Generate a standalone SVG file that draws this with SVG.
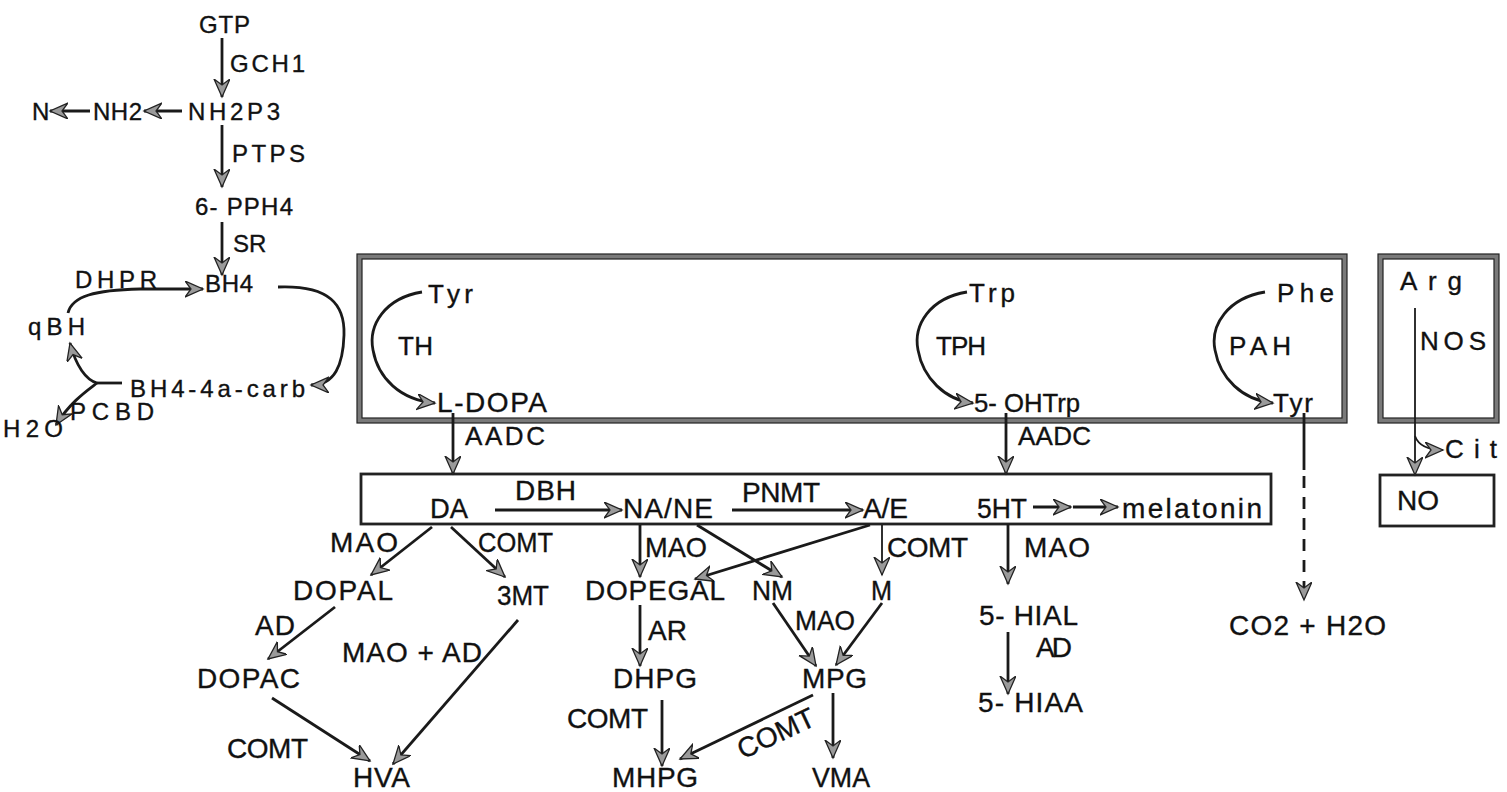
<svg xmlns="http://www.w3.org/2000/svg" width="1507" height="792" viewBox="0 0 1507 792">
<defs>
<marker id="ah" markerUnits="userSpaceOnUse" markerWidth="22" markerHeight="18" refX="18" refY="8" orient="auto">
<path d="M0,0 L18,8 L0,16 L6,8 Z" fill="#9a9a9a" stroke="#222" stroke-width="1.3" stroke-linejoin="miter"/>
</marker>
</defs>
<style>
text{font-family:"Liberation Sans",Arial,sans-serif;fill:#111;stroke:#111;stroke-width:0.35;font-size:28px}
.s{font-size:24px}
.m{font-size:26px}
.c{fill:none;stroke:#1a1a1a;stroke-width:2.8}
.a{fill:none;stroke:#1a1a1a;stroke-width:2.8;marker-end:url(#ah)}
.t{fill:none;stroke:#1a1a1a;stroke-width:1.8;marker-end:url(#ah)}
.d{fill:none;stroke:#1a1a1a;stroke-width:2.8;stroke-dasharray:12 9;marker-end:url(#ah)}
.bx{fill:none;stroke:#7a7a7a;stroke-width:5}
.bl{fill:none;stroke:#222;stroke-width:1.2}
.b2{fill:none;stroke:#222;stroke-width:2.8}
</style>

<g id="frames">
<rect class="bx" x="359.5" y="256.5" width="985" height="164"/>
<rect class="bl" x="357" y="254" width="990" height="169"/>
<rect class="bl" x="362" y="259" width="980" height="159"/>
<rect class="bx" x="1380.5" y="256.5" width="116" height="164"/>
<rect class="bl" x="1378" y="254" width="121" height="169"/>
<rect class="bl" x="1383" y="259" width="111" height="159"/>
<rect class="b2" x="361" y="474" width="910" height="50"/>
<rect class="b2" x="1380" y="475" width="114" height="51"/>
</g>

<g id="connectors">
<line class="a" x1="222" y1="38" x2="222" y2="97"/>
<line class="a" x1="182" y1="111" x2="144" y2="111"/>
<line class="a" x1="90" y1="111" x2="50" y2="111"/>
<line class="a" x1="222" y1="125" x2="222" y2="187"/>
<line class="a" x1="222" y1="222" x2="222" y2="275"/>
<path class="a" d="M68,313 C72,296 95,290 140,289 L203,289"/>
<path class="a" d="M278,287 C330,285 345,305 344,335 C343,365 335,385 311,385"/>
<path class="c" d="M122,383 L97,383"/>
<path class="a" d="M97,383 C86,380 76,366 70,343"/>
<path class="a" d="M97,383 C88,390 70,402 56,425"/>
<path class="a" d="M422,292 C385,298 368,325 373,350 C378,378 400,400 435,403"/>
<path class="a" d="M967,292 C930,298 913,325 918,350 C923,378 945,400 973,403"/>
<path class="a" d="M1265,292 C1228,298 1210,325 1215,350 C1220,378 1242,400 1273,403"/>
<line class="a" x1="453" y1="413" x2="453" y2="474"/>
<line class="a" x1="1006" y1="413" x2="1006" y2="474"/>
<line class="c" x1="1304" y1="413" x2="1304" y2="470"/>
<line class="d" x1="1304" y1="476" x2="1304" y2="600"/>
<line class="t" x1="1415" y1="308" x2="1415" y2="475"/>
<path class="t" d="M1415,436 Q1420,450 1443,450"/>
<line class="a" x1="495" y1="510" x2="622" y2="510"/>
<line class="a" x1="732" y1="510" x2="863" y2="510"/>
<line class="a" x1="1033" y1="507" x2="1071" y2="507"/>
<line class="a" x1="1073" y1="507" x2="1118" y2="507"/>
<line class="a" x1="432" y1="527" x2="371" y2="575"/>
<line class="a" x1="451" y1="527" x2="505" y2="577"/>
<line class="a" x1="335" y1="607" x2="268" y2="659"/>
<line class="a" x1="518" y1="620" x2="393" y2="764"/>
<line class="a" x1="272" y1="698" x2="370" y2="761"/>
<line class="a" x1="640" y1="525" x2="640" y2="577"/>
<line class="a" x1="697" y1="525" x2="782" y2="577"/>
<line class="a" x1="870" y1="525" x2="695" y2="579"/>
<line class="t" x1="882" y1="525" x2="882" y2="575"/>
<line class="a" x1="640" y1="605" x2="640" y2="666"/>
<line class="a" x1="773" y1="603" x2="816" y2="666"/>
<line class="a" x1="882" y1="603" x2="836" y2="665"/>
<line class="a" x1="662" y1="700" x2="662" y2="766"/>
<line class="a" x1="813" y1="695" x2="680" y2="759"/>
<line class="a" x1="833" y1="693" x2="833" y2="758"/>
<line class="a" x1="1008" y1="524" x2="1008" y2="584"/>
<line class="a" x1="1008" y1="632" x2="1008" y2="694"/>
</g>

<g id="cofactor">
<text class="s" x="199" y="33" textLength="51">GTP</text>
<text class="s" x="230" y="72" textLength="75">GCH1</text>
<text class="s" x="188" y="120" textLength="92">NH2P3</text>
<text class="s" x="93" y="120" textLength="49">NH2</text>
<text class="s" x="32" y="120">N</text>
<text class="s" x="232" y="162" textLength="73">PTPS</text>
<text class="s" x="195" y="215" textLength="98">6- PPH4</text>
<text class="s" x="233" y="252">SR</text>
<text class="s" x="205" y="292" textLength="48">BH4</text>
<text class="s" x="75" y="288" textLength="82">DHPR</text>
<text class="s" x="28" y="335" textLength="57">qBH</text>
<text class="s" x="130" y="397" textLength="175">BH4-4a-carb</text>
<text class="s" x="3" y="437" textLength="60">H2O</text>
<text class="s" x="70" y="420" textLength="84">PCBD</text>
</g>

<g id="hydroxylation">
<text class="m" x="428" y="303" textLength="45">Tyr</text>
<text class="m" x="398" y="355" textLength="35">TH</text>
<text x="437" y="412" textLength="110">L-DOPA</text>
<text class="m" x="969" y="302" textLength="46">Trp</text>
<text class="m" x="936" y="355" textLength="50">TPH</text>
<text class="m" x="974" y="412" textLength="106" lengthAdjust="spacingAndGlyphs">5- OHTrp</text>
<text class="m" x="1277" y="302" textLength="57">Phe</text>
<text class="m" x="1229" y="355" textLength="62">PAH</text>
<text class="m" x="1273" y="412" textLength="40">Tyr</text>
<text class="m" x="1400" y="290" textLength="62">Arg</text>
<text class="m" x="1420" y="350" textLength="66">NOS</text>
<text class="m" x="1445" y="458" textLength="52">Cit</text>
<text x="1397" y="510" textLength="42">NO</text>
<text class="m" x="465" y="445" textLength="80">AADC</text>
<text class="m" x="1018" y="445" textLength="73">AADC</text>
</g>

<g id="amines">
<text x="430" y="518" textLength="38" lengthAdjust="spacingAndGlyphs">DA</text>
<text x="515" y="500" textLength="61">DBH</text>
<text x="623" y="518" textLength="90">NA/NE</text>
<text x="742" y="502" textLength="78">PNMT</text>
<text x="863" y="518" textLength="45">A/E</text>
<text x="977" y="518" textLength="50" lengthAdjust="spacingAndGlyphs">5HT</text>
<text x="1122" y="518" textLength="140">melatonin</text>
</g>

<g id="catabolism">
<text x="330" y="552" textLength="68">MAO</text>
<text x="478" y="552" textLength="75" lengthAdjust="spacingAndGlyphs">COMT</text>
<text x="293" y="600" textLength="100">DOPAL</text>
<text x="497" y="605" textLength="52" lengthAdjust="spacingAndGlyphs">3MT</text>
<text x="255" y="635" textLength="40">AD</text>
<text x="197" y="688" textLength="103">DOPAC</text>
<text x="342" y="662" textLength="140">MAO + AD</text>
<text x="227" y="758" textLength="81">COMT</text>
<text x="353" y="787" textLength="57">HVA</text>
<text x="645" y="557" textLength="62" lengthAdjust="spacingAndGlyphs">MAO</text>
<text x="585" y="600" textLength="140">DOPEGAL</text>
<text x="752" y="600" textLength="41" lengthAdjust="spacingAndGlyphs">NM</text>
<text x="887" y="557" textLength="81">COMT</text>
<text x="871" y="600" textLength="21" lengthAdjust="spacingAndGlyphs">M</text>
<text x="648" y="640" textLength="39">AR</text>
<text x="795" y="630" textLength="60" lengthAdjust="spacingAndGlyphs">MAO</text>
<text x="613" y="688" textLength="84">DHPG</text>
<text x="802" y="688" textLength="65">MPG</text>
<text x="567" y="728" textLength="81">COMT</text>
<text x="612" y="787" textLength="86">MHPG</text>
<text x="812" y="787" textLength="58" lengthAdjust="spacingAndGlyphs">VMA</text>
<text transform="translate(780,742) rotate(-25)" text-anchor="middle">COMT</text>
<text x="1024" y="557" textLength="66">MAO</text>
<text x="979" y="625" textLength="99">5- HIAL</text>
<text x="1036" y="657" textLength="36">AD</text>
<text x="978" y="712" textLength="105">5- HIAA</text>
<text x="1229" y="635" textLength="157">CO2 + H2O</text>
</g>
</svg>
